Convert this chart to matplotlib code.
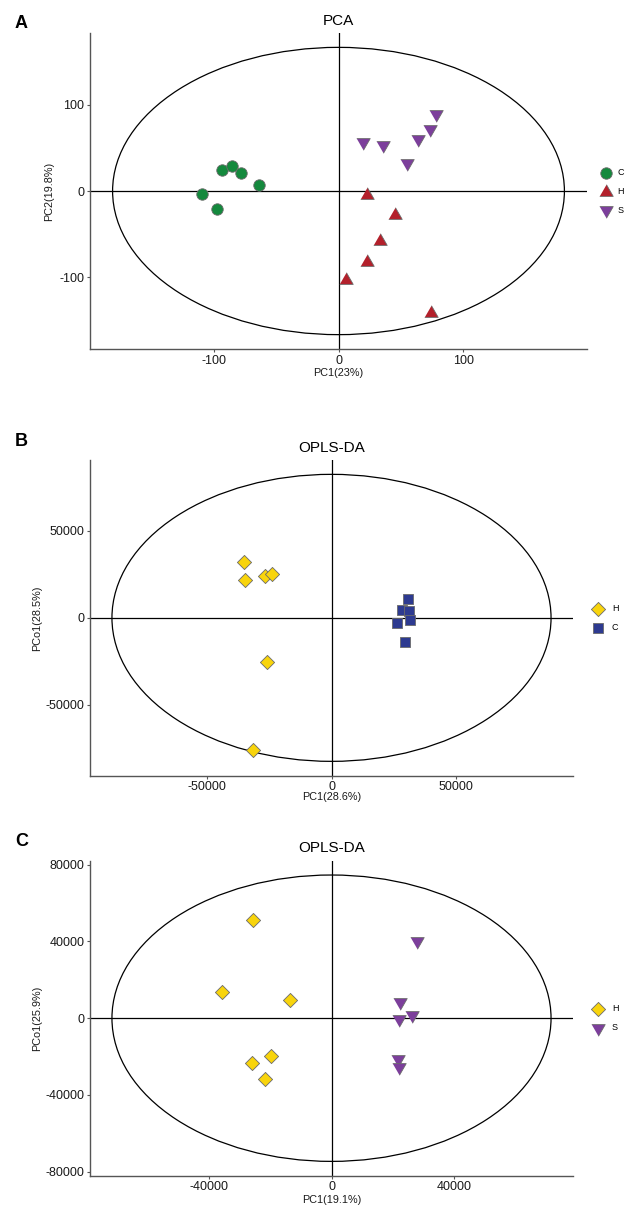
import matplotlib
matplotlib.use("Agg")
import matplotlib.pyplot as plt
from matplotlib.patches import Ellipse

plt.rcParams['font.family'] = ['Liberation Sans', 'DejaVu Sans']

# ---------------- data ----------------
# Panel A (PCA)
a_C_x = [-109, -97, -93, -85, -78, -64]
a_C_y = [-3, -21, 24, 29, 21, 7]
a_H_x = [23, 45, 33, 23, 6, 74]
a_H_y = [-5, -28, -58, -82, -103, -142]
a_S_x = [20, 36, 64, 73, 78, 55]
a_S_y = [57, 53, 60, 72, 89, 32]
a_ell = (181, 167)
a_ticks = [-100, 0, 100]

# Panel B (OPLS-DA, H vs C)
b_H_x = [-35100, -34800, -26700, -24000, -26000, -31600]
b_H_y = [31900, 21500, 24200, 25000, -25500, -76200]
b_C_x = [30600, 28100, 31000, 31400, 26100, 29400]
b_C_y = [10600, 4800, 4000, -1300, -2900, -13800]
b_ell = (88000, 82600)
b_ticks_x = [-50000, 0, 50000]
b_ticks_y = [-50000, 0, 50000]

# Panel C (OPLS-DA, H vs S)
c_H_x = [-25600, -35800, -13700, -19900, -26100, -21800]
c_H_y = [51300, 13400, 9400, -19500, -23300, -31900]
c_S_x = [27800, 22400, 22000, 26200, 21700, 22000]
c_S_y = [40400, 8200, -300, 1700, -21000, -25300]
c_ell = (71700, 74600)
c_ticks_x = [-40000, 0, 40000]
c_ticks_y = [-80000, -40000, 0, 40000, 80000]

titles = ["PCA", "OPLS-DA", "OPLS-DA"]
xlabels = ["PC1(23%)", "PC1(28.6%)", "PC1(19.1%)"]
ylabels = ["PC2(19.8%)", "PCo1(28.5%)", "PCo1(25.9%)"]
panel_letters = ["A", "B", "C"]

# ---------------- style ----------------
W, H = 630, 1207
GREEN = '#14893D'
RED = '#B3202B'
PURPLE = '#7C3F9B'
YELLOW = '#F8D40C'
BLUE = '#2D3A90'
EDGE = '#6A6A6A'
tri_up = [(-1, -0.577), (1, -0.577), (0, 1.155)]
tri_dn = [(-1, 0.577), (1, 0.577), (0, -1.155)]

fig = plt.figure(figsize=(W / 100, H / 100), dpi=100)


def add_axes_px(left, top, right, bottom):
    return fig.add_axes([left / W, 1 - bottom / H, (right - left) / W, (bottom - top) / H])


def style_axes(ax, ell, xt, yt, title, xl, yl, xlc, ylc, tpad):
    a, b = ell
    ax.set_xlim(-1.1 * a, 1.1 * a)
    ax.set_ylim(-1.1 * b, 1.1 * b)
    ax.add_patch(Ellipse((0, 0), 2 * a, 2 * b, fill=False, ec='black', lw=0.9, zorder=1))
    ax.axhline(0, color='black', lw=0.9, zorder=1)
    ax.axvline(0, color='black', lw=0.9, zorder=1)
    for s in ['top', 'right']:
        ax.spines[s].set_visible(False)
    for s in ['left', 'bottom']:
        ax.spines[s].set_color('#555555')
        ax.spines[s].set_linewidth(1.0)
    ax.set_xticks(xt)
    ax.set_yticks(yt)
    ax.set_xticklabels([str(v) for v in xt])
    ax.set_yticklabels([str(v) for v in yt])
    ax.tick_params(direction='out', length=2.5, width=0.8, color='#555555',
                   labelsize=9, labelcolor='#1a1a1a', pad=1.5)
    ax.set_title(title, fontsize=11, pad=tpad)
    ax.set_xlabel(xl, fontsize=7.8, color='#1a1a1a')
    ax.set_ylabel(yl, fontsize=7.8, color='#1a1a1a')
    ax.xaxis.set_label_coords(0.5, xlc)
    ax.yaxis.set_label_coords(ylc, 0.5)


def sc(ax, x, y, marker, color, s):
    return ax.scatter(x, y, marker=marker, s=s, c=color, edgecolors=EDGE, linewidths=0.6, zorder=3)


def legend_px(ax, handles, labels, x_px, y_px, tpad=0.9):
    ax.legend(handles, labels, loc='upper left',
              bbox_to_anchor=(x_px / W, 1 - y_px / H), bbox_transform=fig.transFigure,
              frameon=False, fontsize=6.5, handlelength=1.2, handletextpad=tpad,
              borderpad=0, borderaxespad=0, labelspacing=1.1, scatterpoints=1)


# Panel A
axA = add_axes_px(90, 33, 587, 349)
style_axes(axA, a_ell, a_ticks, a_ticks, titles[0], xlabels[0], ylabels[0], -0.06, -0.072, 6)
hC = sc(axA, a_C_x, a_C_y, 'o', GREEN, 68)
hH = sc(axA, a_H_x, a_H_y, tri_up, RED, 125)
hS = sc(axA, a_S_x, a_S_y, tri_dn, PURPLE, 125)
legend_px(axA, [hC, hH, hS], ["C", "H", "S"], 601, 168, tpad=0.6)

# Panel B
axB = add_axes_px(90, 460, 573, 775.7)
style_axes(axB, b_ell, b_ticks_x, b_ticks_y, titles[1], xlabels[1], ylabels[1], -0.052, -0.10, 6)
hH2 = sc(axB, b_H_x, b_H_y, 'D', YELLOW, 52)
hC2 = sc(axB, b_C_x, b_C_y, 's', BLUE, 55)
legend_px(axB, [hH2, hC2], ["H", "C"], 593, 604)

# Panel C
axC = add_axes_px(90, 860.7, 573, 1175.7)
style_axes(axC, c_ell, c_ticks_x, c_ticks_y, titles[2], xlabels[2], ylabels[2], -0.062, -0.10, 6)
hH3 = sc(axC, c_H_x, c_H_y, 'D', YELLOW, 52)
hS3 = sc(axC, c_S_x, c_S_y, tri_dn, PURPLE, 125)
legend_px(axC, [hH3, hS3], ["H", "S"], 593, 1004)

# Panel letters
for letter, ypx in zip(panel_letters, [23, 441, 841]):
    fig.text(15 / W, 1 - ypx / H, letter, fontsize=13, fontweight='bold', va='center', ha='left')

fig.savefig("out.png", dpi=100)
